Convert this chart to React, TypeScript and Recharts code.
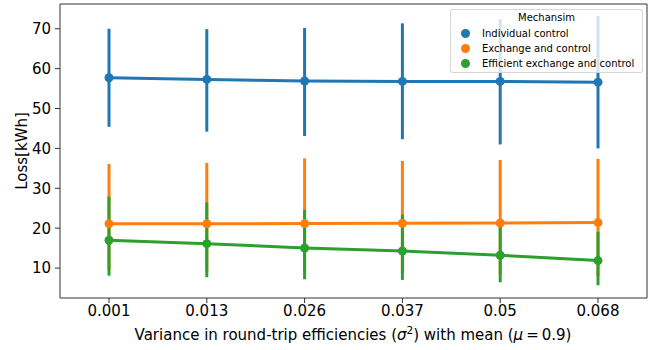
import React from 'react';
import { LineChart, Line, XAxis, YAxis, ErrorBar, Legend } from 'recharts';

const categories = ['0.001', '0.013', '0.026', '0.037', '0.05', '0.068'];

const individualMean = [57.7, 57.3, 56.9, 56.8, 56.8, 56.6];
const individualLow = [45.4, 44.2, 43.1, 42.3, 41.0, 40.0];
const individualHigh = [70.0, 69.9, 70.2, 71.35, 72.4, 73.25];

const exchangeMean = [21.1, 21.1, 21.15, 21.25, 21.3, 21.4];
const exchangeLow = [9.5, 9.3, 9.0, 8.8, 8.5, 8.0];
const exchangeHigh = [36.1, 36.35, 37.5, 36.85, 37.1, 37.35];

const efficientMean = [16.97, 16.12, 15.04, 14.29, 13.21, 11.88];
const efficientLow = [8.1, 7.7, 7.2, 7.03, 6.44, 5.7];
const efficientHigh = [27.9, 26.5, 24.57, 23.4, 21.5, 19.07];

const yTicks = [10, 20, 30, 40, 50, 60, 70];

const seriesNames = ['Individual control', 'Exchange and control', 'Efficient exchange and control'];
const colors = ['#1f77b4', '#ff7f0e', '#2ca02c'];

const data = categories.map((c, i) => ({
  cat: c,
  ind: individualMean[i],
  indErr: [individualMean[i] - individualLow[i], individualHigh[i] - individualMean[i]],
  exc: exchangeMean[i],
  excErr: [exchangeMean[i] - exchangeLow[i], exchangeHigh[i] - exchangeMean[i]],
  eff: efficientMean[i],
  effErr: [efficientMean[i] - efficientLow[i], efficientHigh[i] - efficientMean[i]],
}));

const FONT = '"DejaVu Sans", sans-serif';

const renderLegend = (props: any) => {
  const payload = props.payload || [];
  const items = seriesNames.map((name, i) => {
    const p = payload.find((q: any) => q.value === name);
    return { name, color: p ? p.color : colors[i] };
  });
  return (
    <div
      style={{
        position: 'relative',
        width: 193,
        height: 64,
        boxSizing: 'border-box',
        background: 'rgba(255,255,255,0.8)',
        border: '1px solid rgba(204,204,204,0.8)',
        borderRadius: 3,
        fontFamily: FONT,
        fontSize: 10,
        color: '#000',
      }}
    >
      <div style={{ position: 'absolute', left: 0, right: 0, top: 2, lineHeight: '12px', textAlign: 'center' }}>
        Mechansim
      </div>
      {items.map((p, i) => (
        <div key={p.name} style={{ position: 'absolute', left: 0, top: 18 + i * 15, height: 12, width: '100%' }}>
          <span
            style={{
              position: 'absolute',
              left: 9.5,
              top: 1.5,
              width: 9,
              height: 9,
              borderRadius: '50%',
              background: p.color,
            }}
          />
          <span style={{ position: 'absolute', left: 31, top: 0, lineHeight: '12px', whiteSpace: 'nowrap' }}>
            {p.name}
          </span>
        </div>
      ))}
    </div>
  );
};

const YLabel = () => (
  <text
    x={27}
    y={151}
    transform="rotate(-90 27 151)"
    textAnchor="middle"
    fontFamily={FONT}
    fontSize={15}
    fill="#000"
  >
    Loss[kWh]
  </text>
);

const XLabel = () => (
  <text x={353} y={339.5} textAnchor="middle" fontFamily={FONT} fontSize={15} fill="#000">
    Variance in round-trip efficiencies (
    <tspan fontStyle="italic">σ</tspan>
    <tspan dy={-6} fontSize={10.5}>2</tspan>
    <tspan dy={6}>) with mean (</tspan>
    <tspan fontStyle="italic">μ</tspan>
    <tspan>{'\u2009=\u20090.9)'}</tspan>
  </text>
);

export default function App() {
  return (
    <div style={{ position: 'absolute', left: 0, top: 0, width: 654, height: 350, background: '#fff' }}>
      <LineChart width={654} height={350} data={data} margin={{ top: 3, right: 6, bottom: 0, left: 0 }}>
        <XAxis
          dataKey="cat"
          xAxisId="top"
          orientation="top"
          height={1}
          tick={false}
          tickLine={false}
          stroke="#333"
          padding={{ left: 49, right: 49 }}
        />
        <YAxis
          yAxisId="right"
          orientation="right"
          width={1}
          tick={false}
          tickLine={false}
          stroke="#333"
          domain={[2.5, 76.2]}
          allowDataOverflow
        />
        <XAxis
          dataKey="cat"
          height={52}
          tickSize={5}
          tickMargin={2}
          stroke="#333"
          padding={{ left: 49, right: 49 }}
          tick={{ fill: '#000', fontSize: 15, fontFamily: FONT }}
          interval={0}
          label={<XLabel />}
        />
        <YAxis
          width={60}
          domain={[2.5, 76.2]}
          ticks={yTicks}
          allowDataOverflow
          tickSize={5}
          tickMargin={4}
          stroke="#333"
          tick={{ fill: '#000', fontSize: 15, fontFamily: FONT }}
          label={<YLabel />}
        />
        <Legend
          content={renderLegend}
          layout="horizontal"
          verticalAlign="middle"
          align="center"
          wrapperStyle={{ left: 450, top: 8.7, width: 193, height: 64 }}
        />
        <Line
          name={seriesNames[0]}
          dataKey="ind"
          stroke={colors[0]}
          strokeWidth={3}
          dot={{ r: 4.5, fill: colors[0], stroke: colors[0], strokeWidth: 0 }}
          isAnimationActive={false}
        >
          <ErrorBar dataKey="indErr" width={0} strokeWidth={3} stroke={colors[0]} direction="y" />
        </Line>
        <Line
          name={seriesNames[1]}
          dataKey="exc"
          stroke={colors[1]}
          strokeWidth={3}
          dot={{ r: 4.5, fill: colors[1], stroke: colors[1], strokeWidth: 0 }}
          isAnimationActive={false}
        >
          <ErrorBar dataKey="excErr" width={0} strokeWidth={3} stroke={colors[1]} direction="y" />
        </Line>
        <Line
          name={seriesNames[2]}
          dataKey="eff"
          stroke={colors[2]}
          strokeWidth={3}
          dot={{ r: 4.5, fill: colors[2], stroke: colors[2], strokeWidth: 0 }}
          isAnimationActive={false}
        >
          <ErrorBar dataKey="effErr" width={0} strokeWidth={3} stroke={colors[2]} direction="y" />
        </Line>
      </LineChart>
    </div>
  );
}
